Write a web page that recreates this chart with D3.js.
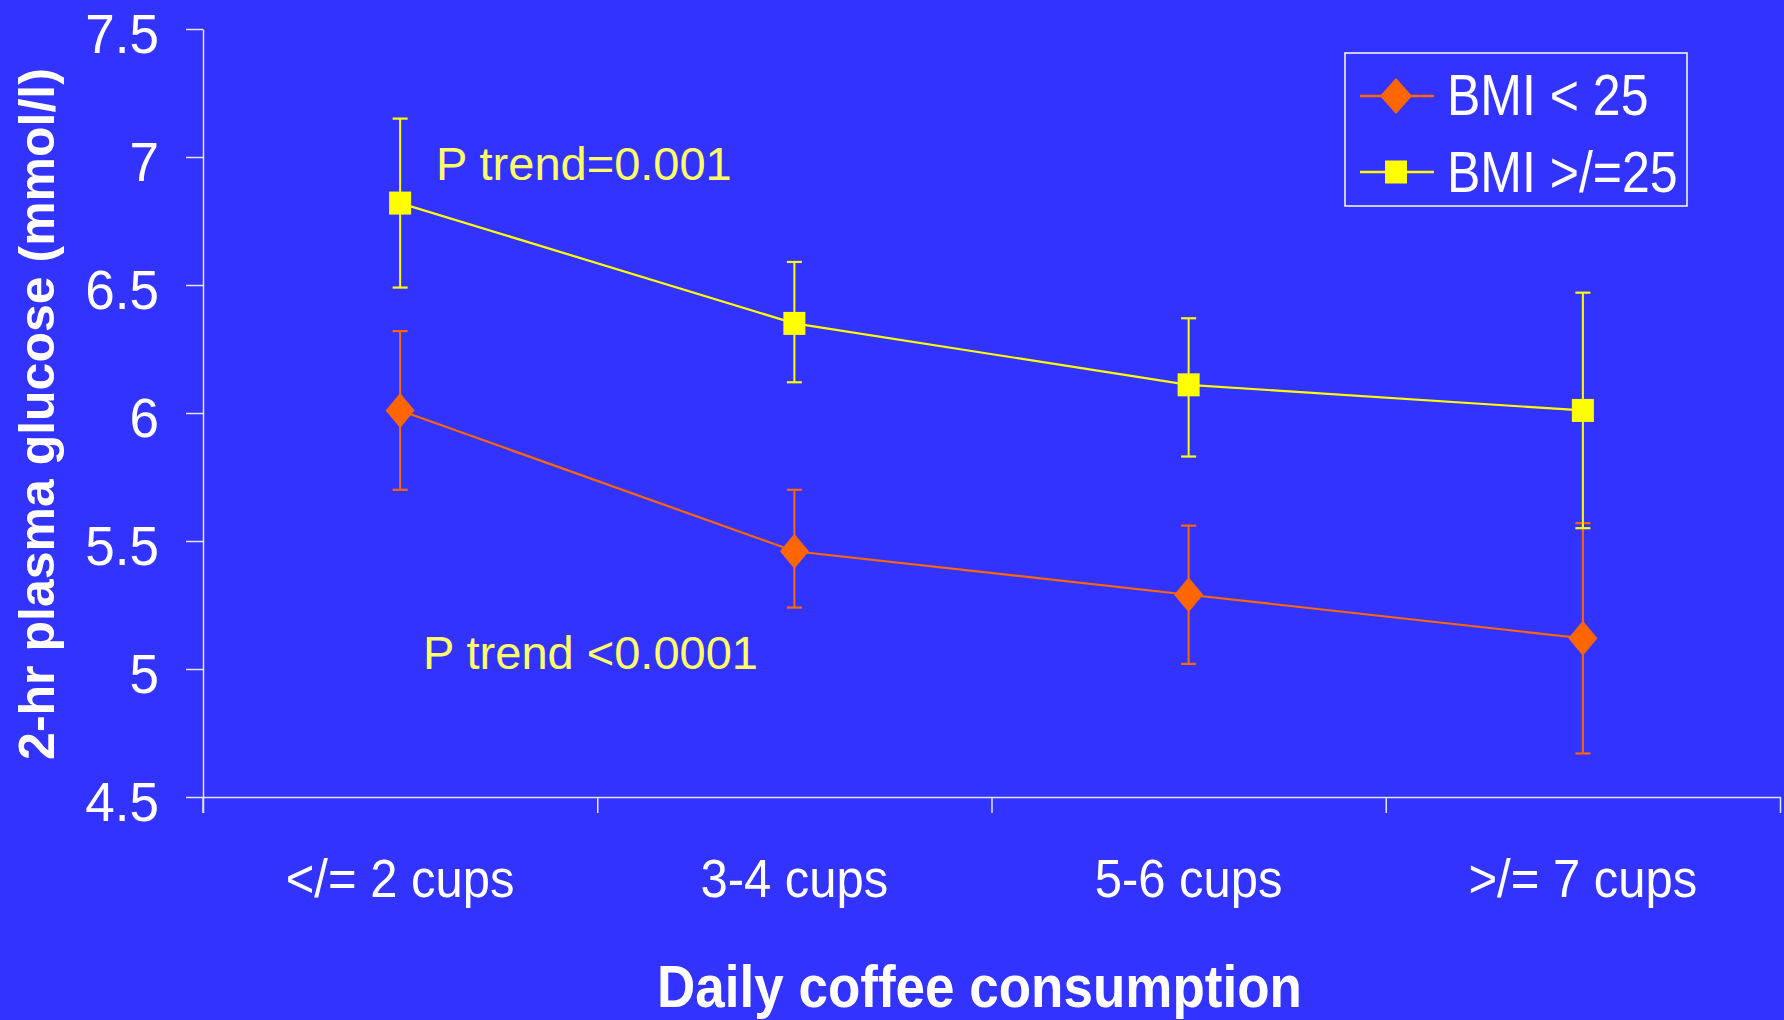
<!DOCTYPE html>
<html>
<head>
<meta charset="utf-8">
<script src="https://cdn.jsdelivr.net/npm/d3@7"></script>
<style>
  html, body { margin: 0; padding: 0; background: #3333ff; }
  svg { display: block; }
  text { font-family: "Liberation Sans", Arial, Helvetica, sans-serif; }
</style>
</head>
<body>
<svg id="chart" width="1784" height="1020"></svg>
<script>
// Daily coffee consumption groups
const categories = ["</= 2 cups", "3-4 cups", "5-6 cups", ">/= 7 cups"];

// Mean 2-hr plasma glucose (mmol/l) with lower / upper error limits
const bmiLowMean  = [6.01, 5.46, 5.29, 5.12];
const bmiLowLower = [5.70, 5.24, 5.02, 4.67];
const bmiLowUpper = [6.32, 5.70, 5.56, 5.57];

const bmiHighMean  = [6.82, 6.35, 6.11, 6.01];
const bmiHighLower = [6.49, 6.12, 5.83, 5.55];
const bmiHighUpper = [7.15, 6.59, 6.37, 6.47];

const seriesNames = ["BMI < 25", "BMI >/=25"];
const yTicks = [4.5, 5, 5.5, 6, 6.5, 7, 7.5];
const yTickLabels = ["4.5", "5", "5.5", "6", "6.5", "7", "7.5"];
const annotations = ["P trend=0.001", "P trend <0.0001"];
const xTitle = "Daily coffee consumption";
const yTitle = "2-hr plasma glucose (mmol/l)";

const BG = "#3333ff", ORANGE = "#ff6600", YELLOW = "#ffff00", NOTE = "#ffff66", AXIS = "#e4e4ff";

const svg = d3.select("#chart");
svg.append("rect").attr("width", 1784).attr("height", 1020).attr("fill", BG);

const plotLeft = 203, plotRight = 1780, plotTop = 29, plotBottom = 797;

const x = d3.scaleBand().domain(categories).range([plotLeft, plotRight]).padding(0);
const cx = c => x(c) + x.bandwidth() / 2;
const y = d3.scaleLinear().domain([4.5, 7.5]).range([plotBottom, plotTop]);

// Y axis
const yAxis = d3.axisLeft(y).tickValues(yTicks).tickSize(17).tickSizeOuter(0)
  .tickFormat(d => yTickLabels[yTicks.indexOf(d)]).tickPadding(27);
const gy = svg.append("g").attr("transform", `translate(${plotLeft},0)`).call(yAxis);
gy.select(".domain").attr("stroke", AXIS).attr("stroke-width", 1.5);
gy.selectAll(".tick line").attr("stroke", AXIS).attr("stroke-width", 1.5);
gy.selectAll(".tick text").attr("fill", "#fff").attr("font-size", 53)
  .attr("dy", "0.37em").attr("transform", "translate(0,3) scale(1,1.06)");
// extend vertical axis to the bottom of the category ticks
svg.append("line").attr("x1", plotLeft).attr("x2", plotLeft)
  .attr("y1", plotBottom).attr("y2", plotBottom + 16)
  .attr("stroke", AXIS).attr("stroke-width", 1.5);

// X axis: line with ticks at the category boundaries
const xb = d3.scaleLinear().domain([0, categories.length]).range([plotLeft, plotRight]);
const xAxis = d3.axisBottom(xb).tickValues(d3.range(categories.length + 1))
  .tickSize(16).tickSizeOuter(0).tickFormat("");
const gx = svg.append("g").attr("transform", `translate(0,${plotBottom})`).call(xAxis);
gx.select(".domain").attr("stroke", AXIS).attr("stroke-width", 1.5);
gx.selectAll(".tick line").attr("stroke", AXIS).attr("stroke-width", 1.5);

// Category labels
svg.append("g").selectAll("text").data(categories).join("text")
  .attr("transform", d => `translate(${cx(d)},897) scale(1,1.08)`)
  .attr("text-anchor", "middle").attr("fill", "#fff").attr("font-size", 49)
  .text(d => d);

// Axis titles
svg.append("text")
  .attr("transform", `translate(${(plotLeft + plotRight) / 2 - 12},1007) scale(1,1.11)`)
  .attr("text-anchor", "middle").attr("fill", "#fff").attr("font-size", 53)
  .attr("font-weight", "bold").text(xTitle);
svg.append("text")
  .attr("transform", "translate(54,414) rotate(-90)")
  .attr("text-anchor", "middle").attr("fill", "#fff").attr("font-size", 50)
  .attr("font-weight", "bold").text(yTitle);

// Series
const series = [
  { name: seriesNames[0], color: ORANGE, shape: "diamond", mean: bmiLowMean, lo: bmiLowLower, hi: bmiLowUpper },
  { name: seriesNames[1], color: YELLOW, shape: "square", mean: bmiHighMean, lo: bmiHighLower, hi: bmiHighUpper }
];

function marker(g, shape, color) {
  if (shape === "diamond") {
    g.append("path").attr("d", "M0,-17.5L14.5,0L0,17.5L-14.5,0Z").attr("fill", color);
  } else {
    g.append("rect").attr("x", -11).attr("y", -11.5).attr("width", 22).attr("height", 23).attr("fill", color);
  }
}

const line = d3.line().x(d => cx(d.c)).y(d => y(d.v));

series.forEach(s => {
  const pts = categories.map((c, i) => ({ c, v: s.mean[i], lo: s.lo[i], hi: s.hi[i] }));
  const g = svg.append("g");
  // error bars
  pts.forEach(p => {
    const px = cx(p.c);
    g.append("line").attr("x1", px).attr("x2", px).attr("y1", y(p.hi)).attr("y2", y(p.lo))
      .attr("stroke", s.color).attr("stroke-width", 2);
    [p.hi, p.lo].forEach(v => {
      g.append("line").attr("x1", px - 7.5).attr("x2", px + 7.5).attr("y1", y(v)).attr("y2", y(v))
        .attr("stroke", s.color).attr("stroke-width", 2.2);
    });
  });
  g.append("path").datum(pts).attr("d", line).attr("fill", "none")
    .attr("stroke", s.color).attr("stroke-width", 2.2);
  pts.forEach(p => {
    marker(g.append("g").attr("transform", `translate(${cx(p.c)},${y(p.v)})`), s.shape, s.color);
  });
});

// Trend annotations
svg.append("text").attr("x", 436).attr("y", 180).attr("fill", NOTE).attr("font-size", 47).text(annotations[0]);
svg.append("text").attr("x", 423).attr("y", 669).attr("fill", NOTE).attr("font-size", 47).text(annotations[1]);

// Legend
const lg = svg.append("g");
lg.append("rect").attr("x", 1345).attr("y", 53).attr("width", 342).attr("height", 153)
  .attr("fill", "none").attr("stroke", "#fff").attr("stroke-width", 1.5);
series.forEach((s, i) => {
  const ly = i === 0 ? 96 : 172;
  lg.append("line").attr("x1", 1360).attr("x2", 1434).attr("y1", ly).attr("y2", ly)
    .attr("stroke", s.color).attr("stroke-width", 2.5);
  const mg = lg.append("g").attr("transform", `translate(1396,${ly})`);
  if (s.shape === "diamond") {
    mg.append("path").attr("d", "M0,-18L16,0L0,18L-16,0Z").attr("fill", s.color);
  } else {
    mg.append("rect").attr("x", -11).attr("y", -11.5).attr("width", 22).attr("height", 23).attr("fill", s.color);
  }
  lg.append("text").attr("transform", `translate(1447,${i === 0 ? 115 : 192}) scale(1,1.14)`)
    .attr("fill", "#fff").attr("font-size", 50).text(s.name);
});
</script>
</body>
</html>
